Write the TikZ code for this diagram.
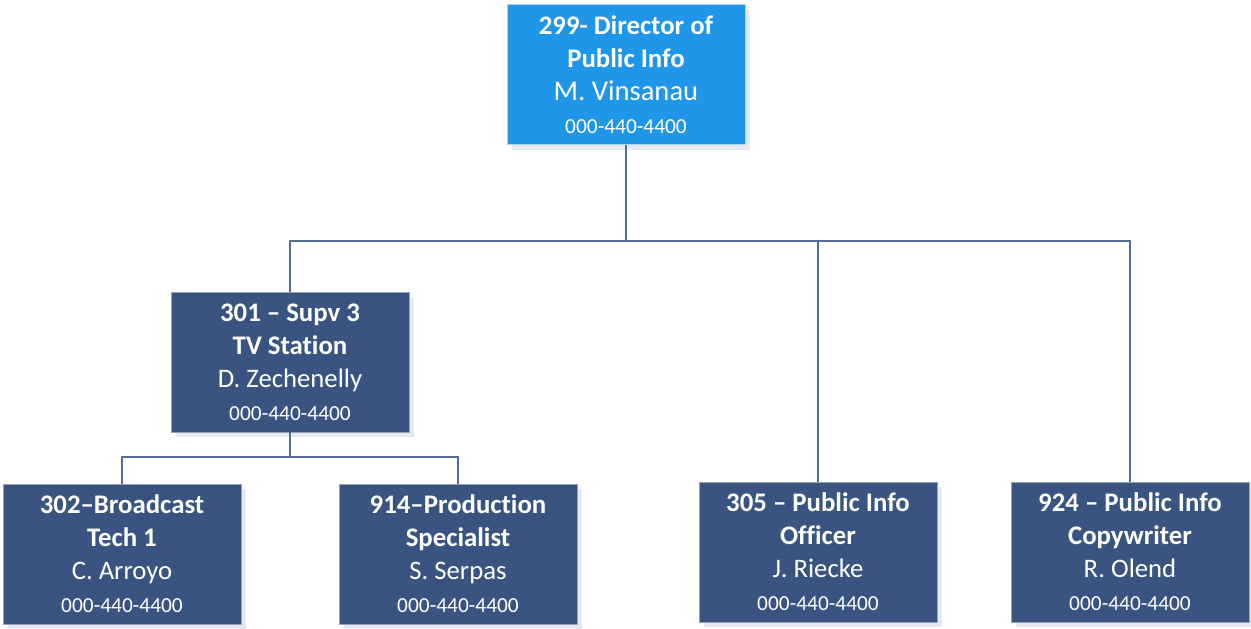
\documentclass[tikz,border=0pt]{standalone}
\usepackage{fontspec}
\setmainfont{Carlito}[Ligatures=NoCommon]
\usetikzlibrary{shadows}
\definecolor{topblue}{HTML}{1F96E8}
\definecolor{navy}{HTML}{3A5482}
\definecolor{wire}{HTML}{4F6C9A}
\definecolor{shade}{HTML}{E6EBF3}
\newcommand{\ttl}[1]{{\bfseries\fontsize{26.8}{33}\selectfont #1}}
\newcommand{\who}[1]{{\fontsize{26.7}{33}\selectfont #1}}
\newcommand{\tel}[1]{{\fontsize{21.4}{33}\selectfont #1}}
\begin{document}
\begin{tikzpicture}[x=1pt,y=-1pt,
  box/.style={rectangle, minimum width=238pt, minimum height=140pt, inner sep=0pt,
    fill=navy, draw=navy!55!white, line width=0.8pt, text=white, align=center,
    font=\fontsize{26.8}{33}\selectfont,
    drop shadow={shadow xshift=5pt, shadow yshift=-5pt, fill=shade, opacity=1}},
  headbox/.style={box, fill=topblue, draw=topblue!40!white},
  conn/.style={draw=wire, line width=1.2pt}]
\useasboundingbox (0,0) rectangle (1251,629);

\node[headbox] (top) at (626,74.5)
  {\ttl{299- Director of}\\\ttl{Public Info}\\\who{\fontsize{28.6}{34}\selectfont M. Vinsanau}\\\tel{000-440-4400}};
\node[box] (s301) at (290,362)
  {\ttl{301 – Supv 3}\\\ttl{TV Station}\\\who{D. Zechenelly}\\\tel{000-440-4400}};
\node[box] (s302) at (122,554)
  {\ttl{302–Broadcast}\\\ttl{Tech 1}\\\who{C. Arroyo}\\\tel{000-440-4400}};
\node[box] (s914) at (458,554)
  {\ttl{914–Production}\\\ttl{Specialist}\\\who{S. Serpas}\\\tel{000-440-4400}};
\node[box] (s305) at (818,552)
  {\ttl{305 – Public Info}\\\ttl{Officer}\\\who{J. Riecke}\\\tel{000-440-4400}};
\node[box] (s924) at (1130,552)
  {\ttl{924 – Public Info}\\\ttl{Copywriter}\\\who{R. Olend}\\\tel{000-440-4400}};

% bus levels
\coordinate (busA) at (626,241);
\coordinate (busB) at (290,457);

% director to direct reports
\draw[conn] (top.south) -- (busA);
\draw[conn] (busA) -| (s301.north);
\draw[conn] (busA) -| (s305.north);
\draw[conn] (busA) -| (s924.north);
% supervisor to staff
\draw[conn] (s301.south) -- (busB);
\draw[conn] (busB) -| (s302.north);
\draw[conn] (busB) -| (s914.north);
\end{tikzpicture}
\end{document}
